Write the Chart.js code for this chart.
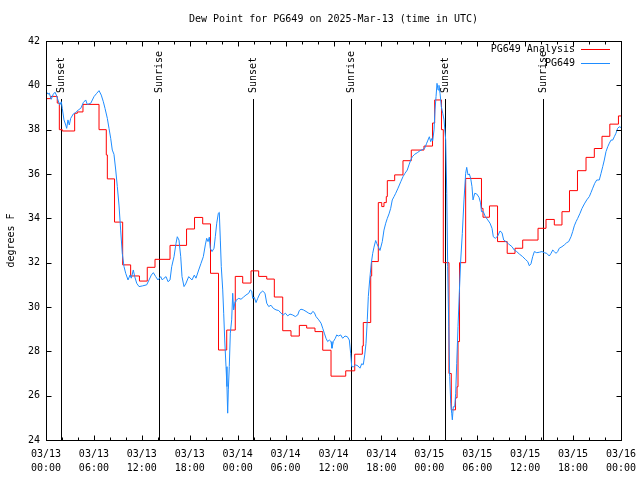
<!DOCTYPE html>
<html>
<head>
<meta charset="utf-8">
<script src="https://cdn.jsdelivr.net/npm/chart.js@4/dist/chart.umd.min.js"></script>
<style>
html,body{margin:0;padding:0;background:#fff;}
#wrap{width:640px;height:480px;position:relative;}
</style>
</head>
<body>
<div id="wrap"><canvas id="c" width="640" height="480"></canvas></div>
<script>
const chartTitle = "Dew Point for PG649 on 2025-Mar-13 (time in UTC)";
const yAxisTitle = "degrees F";
const seriesNames = ["PG649 Analysis", "PG649"];

// hours since 03/13 00:00 UTC
const analysisHours = [0,0.59,1.41,1.67,2.04,3.59,3.92,4.63,6.64,7.55,7.68,8.58,9.6,10.6,11.7,12.68,13.65,15.53,17.6,18.6,19.62,20.6,21.6,22.63,23.7,24.63,25.67,26.63,27.64,28.59,29.64,30.68,31.72,32.64,33.68,34.65,35.69,37.53,38.66,39.61,39.73,40.66,40.78,41.61,42.04,42.32,42.61,42.74,43.66,44.7,45.74,47.33,48.4,48.67,49.52,49.75,50.46,50.75,51.28,51.47,51.59,51.78,52.55,54.53,54.72,55.53,56.54,57.75,58.73,59.69,61.61,62.61,63.65,64.61,65.55,66.55,67.62,68.66,69.62,70.6,71.68,72];
const analysisValues = [39.4,39.5,39.2,38.0,37.94,38.74,38.8,39.14,38.0,36.86,35.78,33.83,31.9,31.4,31.17,31.79,32.15,32.78,33.52,34.04,33.75,31.52,28.06,28.96,31.38,31.08,31.63,31.38,31.26,30.45,28.93,28.69,29.17,29.05,28.89,28.05,26.88,27.12,27.87,28.24,29.3,31.4,32.05,34.71,34.53,34.71,34.98,35.7,35.96,36.6,37.08,37.26,38.3,39.34,38.0,32.0,27.0,25.36,25.9,26.4,28.44,32.0,35.8,34.45,34.05,34.56,32.95,32.42,32.65,33.02,33.55,33.95,33.7,34.3,35.25,36.15,36.75,37.15,37.7,38.25,38.62,38.62];

const stationHours = [0.09,0.25,0.41,0.66,0.91,1.13,1.34,1.5,1.72,1.92,2.04,2.25,2.47,2.59,2.75,2.92,3.09,3.42,3.72,4.04,4.35,4.67,4.97,5.17,5.6,6.01,6.35,6.64,6.92,7.18,7.39,7.68,7.89,8.1,8.3,8.51,8.73,8.93,9.14,9.35,9.55,9.77,9.98,10.27,10.52,10.68,10.93,11.11,11.36,11.65,12.06,12.61,12.9,13.19,13.44,13.74,14.02,14.36,14.56,14.78,15.03,15.28,15.53,15.74,16.03,16.28,16.44,16.65,16.87,17.03,17.28,17.49,17.87,18.28,18.57,18.78,19.12,19.41,19.7,19.95,20.12,20.29,20.45,20.57,20.79,21.04,21.2,21.38,21.58,21.7,21.83,21.95,22.13,22.25,22.38,22.54,22.66,22.75,22.83,22.95,23.08,23.25,23.38,23.5,23.67,23.79,24.13,24.42,24.71,25.04,25.38,25.58,25.76,25.88,26.08,26.3,26.51,26.8,27.14,27.42,27.64,27.89,28.17,28.46,28.8,29.14,29.43,29.71,29.97,30.27,30.55,30.89,31.22,31.52,31.72,31.93,32.22,32.56,32.9,33.18,33.4,33.6,33.81,34.15,34.44,34.65,34.85,35.06,35.27,35.47,35.69,35.81,35.98,36.23,36.4,36.6,36.9,37.15,37.44,37.73,37.98,38.15,38.28,38.48,38.78,39.07,39.32,39.53,39.73,39.91,40.07,40.23,40.36,40.53,40.73,40.91,41.07,41.28,41.41,41.61,41.82,42.11,42.32,42.54,42.74,42.95,43.16,43.36,43.58,43.79,44.08,44.42,44.7,44.95,45.24,45.45,45.67,45.87,46.17,46.49,46.83,47.12,47.42,47.67,47.83,48.0,48.17,48.3,48.42,48.59,48.71,48.84,48.96,49.09,49.21,49.34,49.5,49.68,49.84,50.05,50.18,50.3,50.43,50.55,50.68,50.8,50.88,51.0,51.18,51.3,51.43,51.59,51.75,51.93,52.13,52.34,52.55,52.68,52.84,53.01,53.18,53.34,53.47,53.68,53.93,54.22,54.41,54.53,54.76,55.01,55.31,55.6,55.85,56.01,56.26,56.56,56.85,57.1,57.31,57.6,57.94,58.35,58.64,58.94,59.27,59.69,60.02,60.32,60.52,60.73,60.94,61.15,61.45,61.77,62.11,62.4,62.7,63.02,63.24,63.45,63.65,63.86,64.07,64.27,64.61,64.9,65.2,65.45,65.74,65.95,66.15,66.37,66.58,66.87,67.12,67.41,67.71,68.03,68.24,68.46,68.71,68.96,69.28,69.5,69.71,69.91,70.12,70.34,70.54,70.75,70.96,71.16,71.37,71.58,71.78,72.0];
const stationValues = [39.69,39.6,39.65,39.37,39.6,39.69,39.52,39.34,39.11,39.26,38.96,38.44,38.21,38.06,38.44,38.21,38.51,38.71,38.77,38.89,38.96,39.22,39.34,39.14,39.19,39.49,39.64,39.76,39.56,39.26,38.96,38.51,38.06,37.61,37.08,36.89,36.18,35.43,34.6,33.47,32.42,31.82,31.52,31.22,31.44,31.3,31.67,31.37,31.07,30.92,30.95,31.0,31.22,31.44,31.55,31.37,31.22,31.37,31.22,31.3,31.37,31.14,31.22,31.82,32.27,32.87,33.17,33.02,32.27,31.37,30.92,31.04,31.37,31.22,31.44,31.3,31.67,31.97,32.27,32.8,33.1,32.95,33.15,32.65,32.5,32.65,33.17,33.78,34.23,34.27,33.02,31.82,30.77,29.72,28.51,27.31,26.41,25.21,26.26,27.31,28.82,29.42,30.62,29.87,30.24,30.3,30.39,30.35,30.44,30.54,30.62,30.77,30.72,30.39,30.44,30.2,30.39,30.62,30.72,30.62,30.17,30.02,30.08,29.94,29.87,29.84,29.72,29.64,29.72,29.6,29.68,29.64,29.57,29.64,29.84,29.9,29.87,29.8,29.72,29.68,29.8,29.75,29.57,29.42,29.27,29.04,28.82,28.59,28.44,28.51,28.44,28.14,28.44,28.59,28.74,28.69,28.74,28.59,28.69,28.66,28.51,27.91,27.31,27.3,27.39,27.34,27.24,27.44,27.4,27.84,28.36,29.42,30.47,31.22,31.97,32.42,32.7,33.0,32.87,32.72,32.55,32.95,33.47,33.78,34.0,34.2,34.45,34.83,34.98,35.13,35.36,35.65,35.88,36.03,36.18,36.41,36.63,36.78,36.89,36.96,37.05,37.1,37.16,37.39,37.53,37.68,37.46,37.6,37.5,37.99,38.89,39.49,40.09,39.79,40.0,39.64,39.04,38.74,38.44,37.53,35.13,31.82,29.11,26.86,25.66,25.21,24.91,25.5,25.5,26.11,27.46,29.11,30.62,32.12,33.32,34.83,36.03,36.3,35.96,36.0,35.8,35.43,34.83,35.13,35.1,34.95,34.7,34.3,34.3,34.08,33.93,33.78,33.55,33.17,33.1,33.2,33.43,33.35,33.02,32.95,32.84,32.72,32.57,32.5,32.39,32.27,32.15,32.05,31.86,31.95,32.27,32.5,32.45,32.47,32.5,32.45,32.42,32.3,32.42,32.57,32.5,32.42,32.5,32.65,32.72,32.8,32.9,32.95,33.17,33.4,33.66,33.85,34.0,34.23,34.45,34.65,34.83,34.98,35.16,35.36,35.58,35.73,35.73,36.03,36.33,36.63,37.01,37.23,37.39,37.53,37.53,37.68,37.84,38.06,38.13,38.1];

const xTickHours = [0,6,12,18,24,30,36,42,48,54,60,66,72];
const xTickLabels = [["03/13","00:00"],["03/13","06:00"],["03/13","12:00"],["03/13","18:00"],["03/14","00:00"],["03/14","06:00"],["03/14","12:00"],["03/14","18:00"],["03/15","00:00"],["03/15","06:00"],["03/15","12:00"],["03/15","18:00"],["03/16","00:00"]];
const xMinorHours = [2,4,8,10,14,16,20,22,26,28,32,34,38,40,44,46,50,52,56,58,62,64,68,70];
const yTickValues = [24,26,28,30,32,34,36,38,40,42];

const sunHours = [1.93,14.19,25.96,38.23,50.0,62.19];
const sunLabels = ["Sunset","Sunrise","Sunset","Sunrise","Sunset","Sunrise"];

const FONT = "'DejaVu Sans Mono', monospace";
Chart.defaults.font.family = FONT;
Chart.defaults.font.size = 10;
Chart.defaults.color = '#000';

const RED = '#ff0000';
const BLUE = '#1e8cff';

const decor = {
  id: 'decor',
  beforeDatasetsDraw(chart) {
    const {ctx, chartArea: a, scales: {x}} = chart;
    ctx.save();
    ctx.strokeStyle = '#000';
    ctx.lineWidth = 1;
    ctx.fillStyle = '#000';
    ctx.font = '10px ' + FONT;
    sunHours.forEach((h, i) => {
      const px = Math.round(x.getPixelForValue(h)) + 0.5;
      ctx.beginPath();
      ctx.moveTo(px, a.top + 58);
      ctx.lineTo(px, a.bottom);
      ctx.stroke();
      ctx.save();
      ctx.translate(px, a.top + 52);
      ctx.rotate(-Math.PI / 2);
      ctx.textAlign = 'left';
      ctx.textBaseline = 'middle';
      ctx.fillText(sunLabels[i], 0, 0);
      ctx.restore();
    });
    ctx.restore();
  },
  afterDraw(chart) {
    const {ctx, chartArea: a, scales: {x, y}} = chart;
    ctx.save();
    ctx.strokeStyle = '#000';
    ctx.lineWidth = 1;
    const L = Math.round(a.left) + 0.5, R = Math.round(a.right) + 0.5;
    const T = Math.round(a.top) + 0.5, B = Math.round(a.bottom) + 0.5;
    ctx.strokeRect(L, T, R - L, B - T);
    ctx.beginPath();
    xTickHours.forEach(h => {
      const px = Math.round(x.getPixelForValue(h)) + 0.5;
      ctx.moveTo(px, B); ctx.lineTo(px, B - 5);
      ctx.moveTo(px, T); ctx.lineTo(px, T + 5);
    });
    xMinorHours.forEach(h => {
      const px = Math.round(x.getPixelForValue(h)) + 0.5;
      ctx.moveTo(px, B); ctx.lineTo(px, B - 3);
      ctx.moveTo(px, T); ctx.lineTo(px, T + 3);
    });
    yTickValues.forEach(v => {
      const py = Math.round(y.getPixelForValue(v)) + 0.5;
      ctx.moveTo(L, py); ctx.lineTo(L + 5, py);
      ctx.moveTo(R, py); ctx.lineTo(R - 5, py);
    });
    ctx.stroke();

    ctx.fillStyle = '#000';
    ctx.font = '10px ' + FONT;
    // x tick labels
    ctx.textAlign = 'center';
    ctx.textBaseline = 'middle';
    xTickHours.forEach((h, i) => {
      const px = x.getPixelForValue(h);
      ctx.fillText(xTickLabels[i][0], px, a.bottom + 14);
      ctx.fillText(xTickLabels[i][1], px, a.bottom + 28);
    });
    // title
    ctx.fillText(chartTitle, (a.left + a.right) / 2, 19);
    // y axis title
    ctx.save();
    ctx.translate(11, (a.top + a.bottom) / 2);
    ctx.rotate(-Math.PI / 2);
    ctx.fillText(yAxisTitle, 0, 0);
    ctx.restore();
    // legend
    const colors = [RED, BLUE];
    ctx.textAlign = 'right';
    seriesNames.forEach((name, i) => {
      const ly = a.top + 8 + i * 14;
      ctx.fillStyle = '#000';
      ctx.fillText(name, a.right - 46, ly);
      ctx.strokeStyle = colors[i];
      ctx.beginPath();
      ctx.moveTo(a.right - 40, Math.round(ly) + 0.5);
      ctx.lineTo(a.right - 11, Math.round(ly) + 0.5);
      ctx.stroke();
    });
    ctx.restore();
  }
};

new Chart(document.getElementById('c'), {
  type: 'line',
  data: {
    datasets: [
      {
        label: seriesNames[1],
        data: stationHours.map((h, i) => ({x: h, y: stationValues[i]})),
        borderColor: BLUE,
        borderWidth: 1,
        pointRadius: 0,
        tension: 0,
        order: 0
      },
      {
        label: seriesNames[0],
        data: analysisHours.map((h, i) => ({x: h, y: analysisValues[i]})),
        borderColor: RED,
        borderWidth: 1,
        pointRadius: 0,
        stepped: 'before',
        order: 1
      }
    ]
  },
  options: {
    responsive: false,
    animation: false,
    events: [],
    layout: {padding: {top: 41, right: 19, left: 0, bottom: 0}},
    plugins: {legend: {display: false}, title: {display: false}, tooltip: {enabled: false}},
    scales: {
      x: {
        type: 'linear',
        min: 0, max: 72,
        afterBuildTicks: (s) => { s.ticks = xTickHours.map(v => ({value: v})); },
        afterFit: (s) => { s.height = 40; },
        grid: {display: false, drawTicks: false},
        border: {display: false},
        ticks: {display: false}
      },
      y: {
        type: 'linear',
        min: 24, max: 42,
        afterBuildTicks: (s) => { s.ticks = yTickValues.map(v => ({value: v})); },
        afterFit: (s) => { s.width = 46; },
        grid: {display: false, drawTicks: false},
        border: {display: false},
        ticks: {padding: 6, font: {size: 10}}
      }
    }
  },
  plugins: [decor]
});
</script>
</body>
</html>
